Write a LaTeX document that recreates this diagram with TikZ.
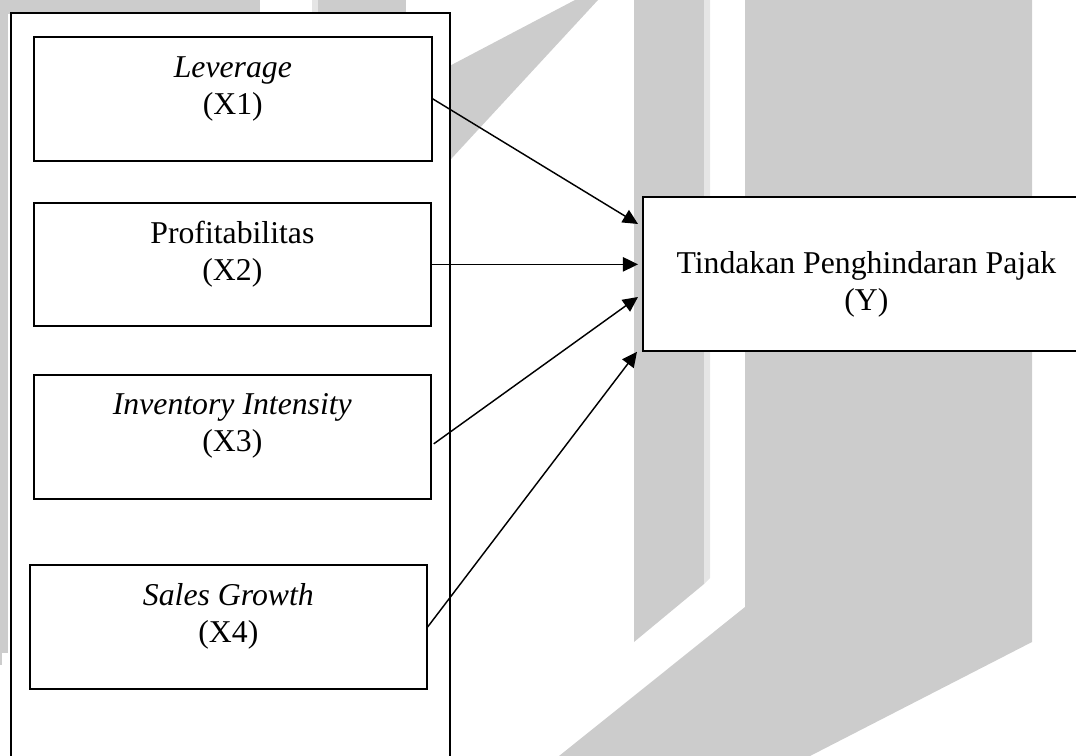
\documentclass[tikz,border=0pt]{standalone}
\usepackage{fontspec}
\setmainfont{Liberation Serif}
\usetikzlibrary{arrows.meta}
\newcommand{\px}{0.378pt}
\newcommand{\twolines}[2]{\begin{tabular}[t]{@{}c@{}}#1\\#2\end{tabular}}
\begin{document}
\begin{tikzpicture}[x=\px, y=-\px,
        wm/.style={fill=gray!40},
        wmlight/.style={fill=gray!20},
        varbox/.style={draw, line width=0.65pt, fill=white, inner sep=0pt, anchor=north west,
            font=\fontsize{12}{14}\selectfont},
        link/.style={-{Triangle[length=5.7pt, width=5.4pt]}, line width=0.55pt}]
        \useasboundingbox (0,0) rectangle (1076,756);
        \clip (0,0) rectangle (1076,756);
        % watermark behind the figure
        \fill [wm] (0,0) rectangle (260,14);
        \fill [wmlight] (312,0) rectangle (318,14);
        \fill [wm] (318,0) rectangle (406,14);
        \fill [wm] (0,0) rectangle (8,653);
        \fill [wm] (0,653) rectangle (2,665);
        \fill [wm] (440,71) -- (575,0) -- (598,0) -- (440,171) -- cycle;
        \fill [wm] (634,0) -- (704,0) -- (704,584) -- (634,642) -- cycle;
        \fill [wmlight] (704,0) -- (710,0) -- (710,578) -- (704,584) -- cycle;
        \fill [wm] (745,0) -- (1032,0) -- (1032,642) -- (810,756) -- (559,756) -- (745,607) -- cycle;
        % frame round the independent variables
        \draw [line width=1pt, fill=white] (11,13) rectangle (450,790);
        \node [varbox, minimum width=150.44pt, text height=15.5pt, text depth=31.37pt] (lev) at (33,36)
            {\twolines{\textit{Leverage}}{(X1)}};
        \node [varbox, minimum width=150.07pt, text height=15.5pt, text depth=31pt] (pro) at (33,202)
            {\twolines{Profitabilitas}{(X2)}};
        \node [varbox, minimum width=150.07pt, text height=15.12pt, text depth=31.75pt] (inv) at (33,374)
            {\twolines{\textit{Inventory Intensity}}{(X3)}};
        \node [varbox, minimum width=150.07pt, text height=15.5pt, text depth=31.37pt] (sal) at (29,564)
            {\twolines{\textit{Sales Growth}}{(X4)}};
        \node [varbox, minimum width=168.97pt, text height=29.11pt, text depth=29.11pt] (tpp) at (642,196)
            {\twolines{Tindakan Penghindaran Pajak}{(Y)}};
        \draw [link] (lev.east) -- ([shift={(-4,28)}]tpp.north west);
        \draw [link] (pro.east) -- ([xshift=-1.5pt]pro.east -| tpp.west);
        \draw [link] ([shift={(2,7)}]inv.east) -- ([shift={(-4,101)}]tpp.north west);
        \draw [link] (sal.east) -- ([shift={(-5,0)}]tpp.south west);
    \end{tikzpicture}
\end{document}
